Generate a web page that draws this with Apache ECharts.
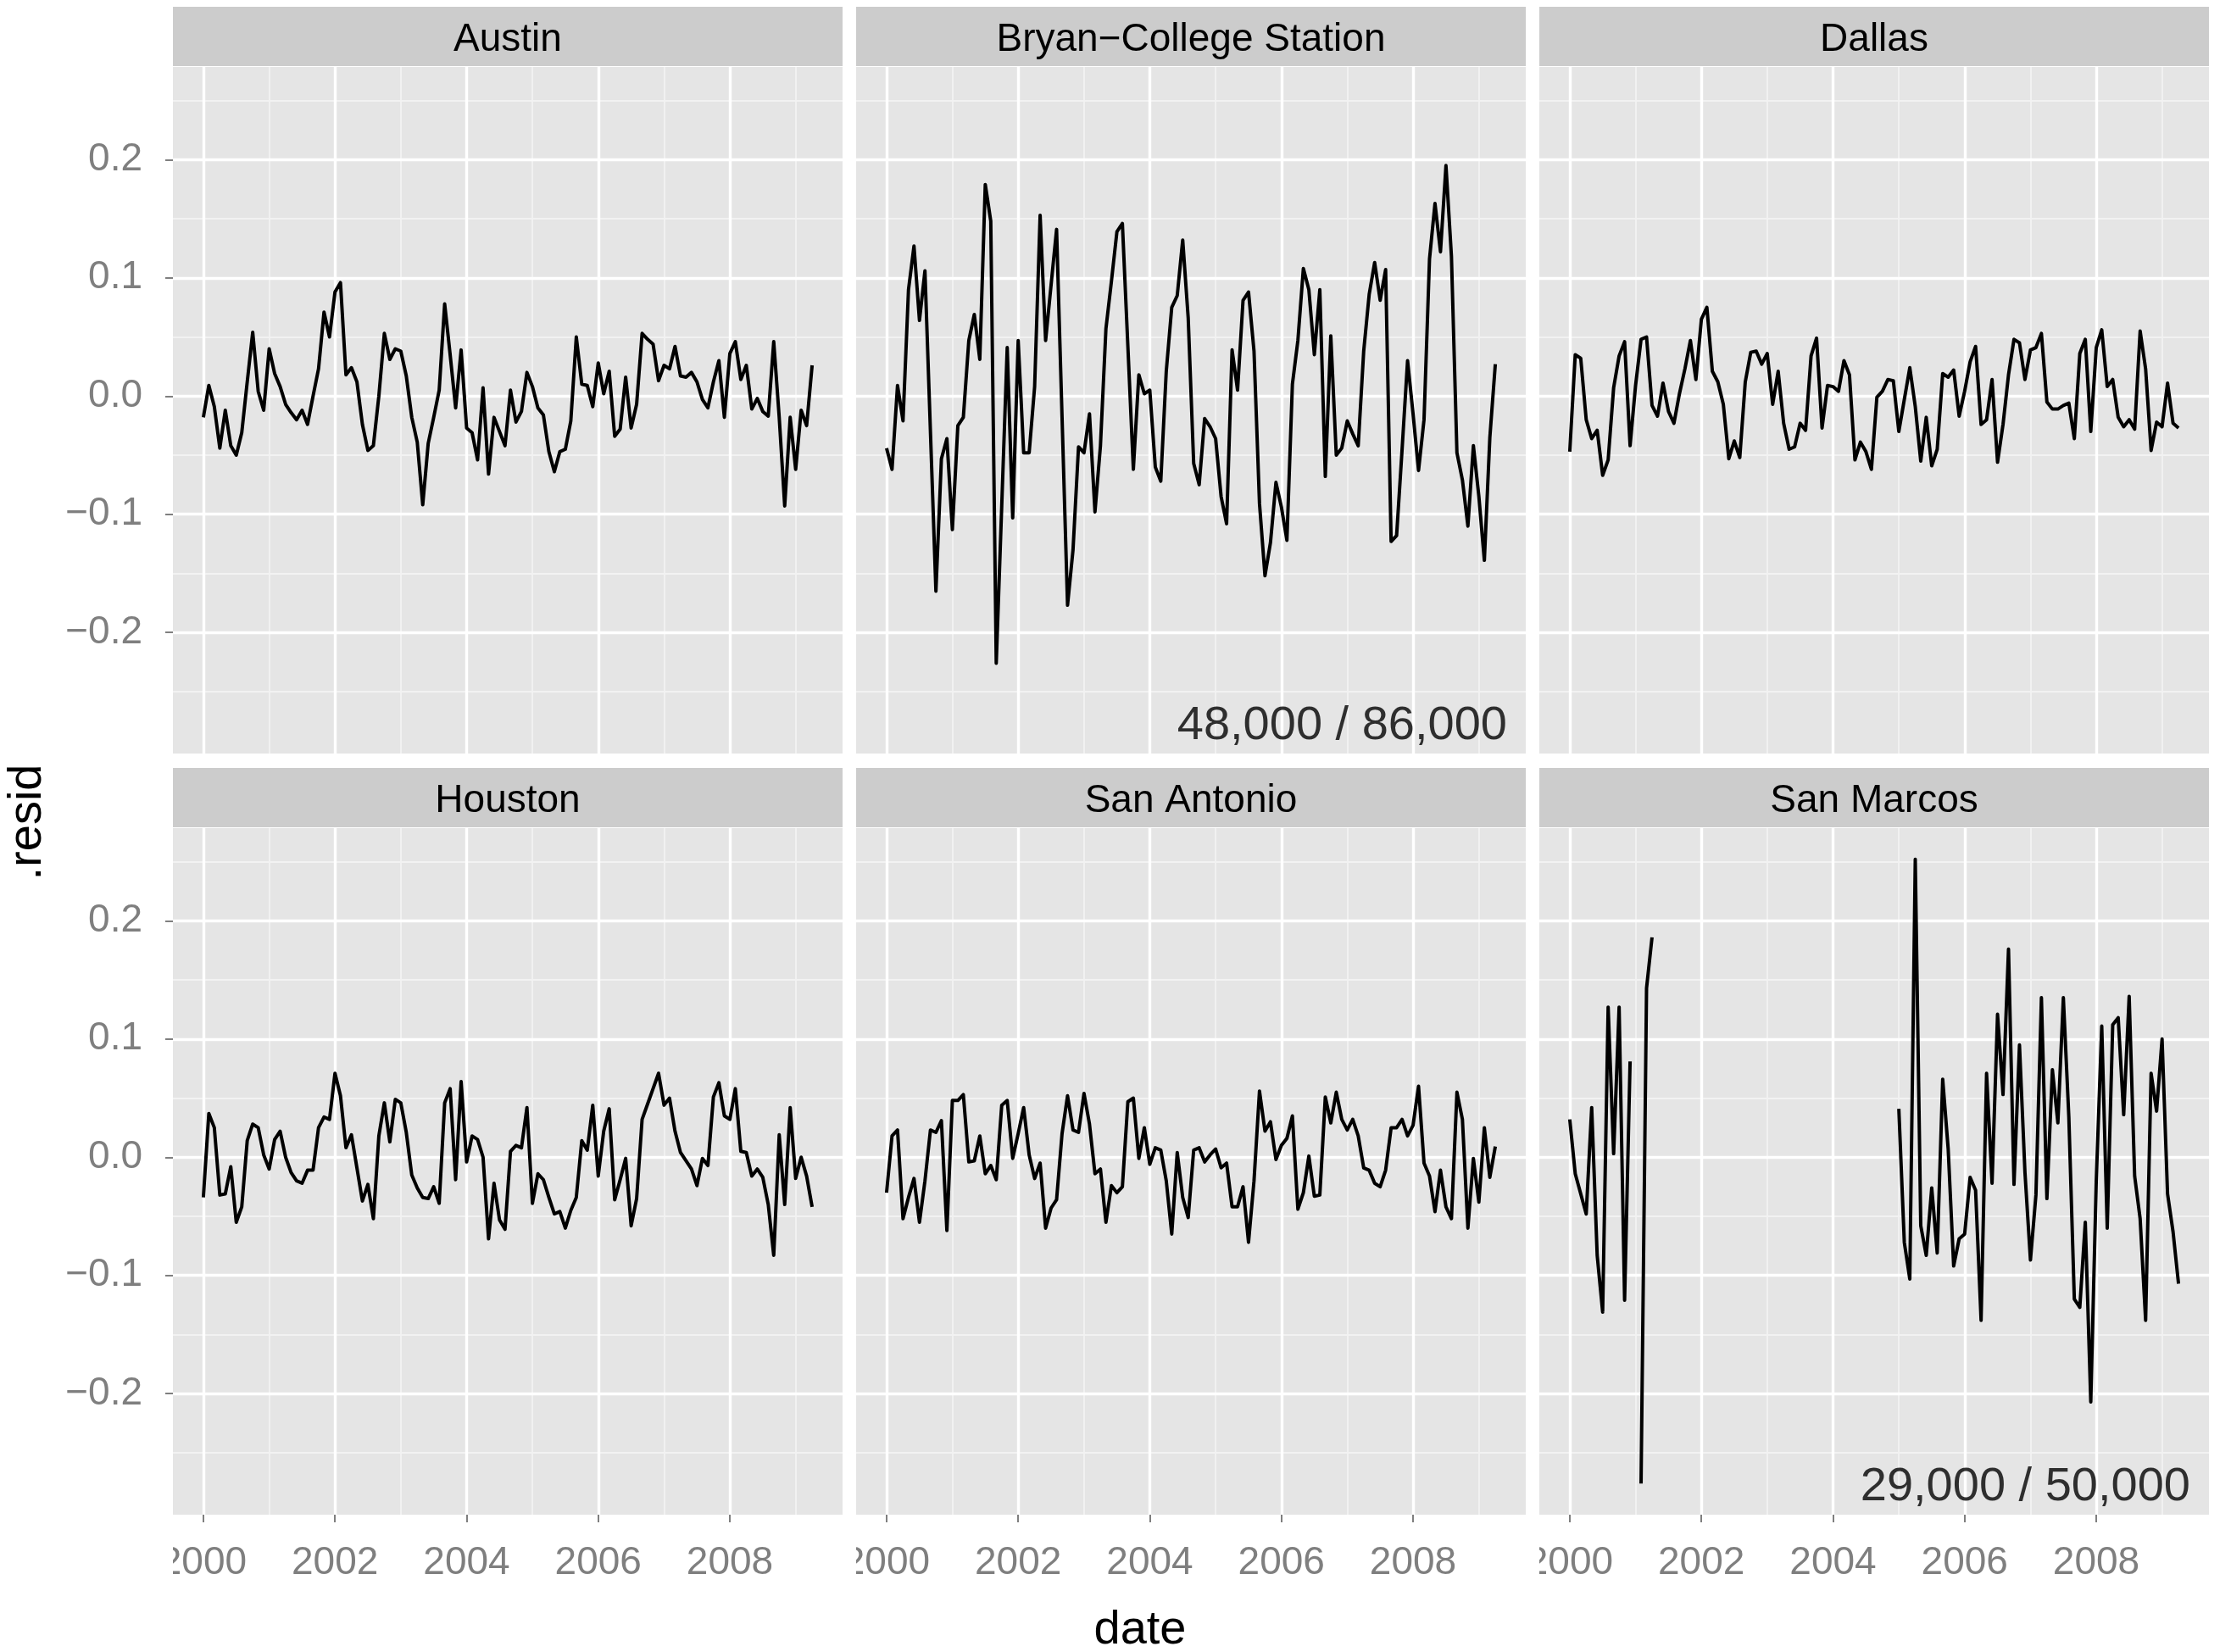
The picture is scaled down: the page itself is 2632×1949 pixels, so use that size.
<!DOCTYPE html>
<html><head><meta charset="utf-8">
<script src="https://cdn.jsdelivr.net/npm/echarts@6/dist/echarts.min.js"></script>
<style>html,body{margin:0;padding:0;background:#fff}#c{width:2632px;height:1949px}</style>
</head><body><div id="c"></div>
<script>
// ---- data ----
const cities = ['Austin', 'Bryan\u2212College Station', 'Dallas', 'Houston', 'San Antonio', 'San Marcos'];
const firstYear = 2000; // monthly values, Jan 2000 .. Apr 2009
const austin = [-0.018,0.009,-0.009,-0.044,-0.012,-0.042,-0.050,-0.031,0.012,0.054,
0.004,-0.012,0.040,0.019,0.008,-0.007,-0.014,-0.020,-0.012,-0.024,
0.000,0.023,0.071,0.050,0.088,0.096,0.018,0.024,0.012,-0.024,
-0.046,-0.042,0.000,0.053,0.031,0.040,0.038,0.017,-0.018,-0.039,
-0.092,-0.040,-0.018,0.005,0.078,0.035,-0.010,0.039,-0.027,-0.031,
-0.054,0.007,-0.066,-0.018,-0.030,-0.042,0.005,-0.022,-0.013,0.020,
0.008,-0.010,-0.016,-0.047,-0.064,-0.047,-0.045,-0.021,0.050,0.010,
0.009,-0.009,0.028,0.002,0.021,-0.034,-0.028,0.016,-0.027,-0.007,
0.053,0.048,0.044,0.013,0.026,0.023,0.042,0.017,0.016,0.020,
0.012,-0.003,-0.010,0.012,0.030,-0.018,0.036,0.046,0.014,0.026,
-0.011,-0.002,-0.013,-0.017,0.046,-0.018,-0.093,-0.018,-0.062,-0.012,
-0.025,0.026];
const bryan = [-0.044,-0.062,0.009,-0.021,0.090,0.127,0.064,0.106,-0.030,-0.165,
-0.053,-0.036,-0.113,-0.025,-0.018,0.047,0.069,0.031,0.179,0.148,
-0.226,-0.093,0.041,-0.103,0.047,-0.048,-0.048,0.008,0.153,0.047,
0.094,0.141,-0.018,-0.177,-0.130,-0.043,-0.048,-0.015,-0.098,-0.042,
0.057,0.097,0.139,0.146,0.042,-0.062,0.018,0.002,0.005,-0.060,
-0.072,0.021,0.075,0.085,0.132,0.066,-0.057,-0.075,-0.019,-0.026,
-0.036,-0.085,-0.108,0.039,0.005,0.081,0.088,0.038,-0.091,-0.152,
-0.124,-0.073,-0.094,-0.122,0.010,0.047,0.108,0.090,0.035,0.090,
-0.068,0.051,-0.050,-0.044,-0.021,-0.032,-0.042,0.038,0.086,0.113,
0.081,0.107,-0.123,-0.118,-0.045,0.030,-0.015,-0.063,-0.020,0.116,
0.163,0.122,0.195,0.118,-0.048,-0.071,-0.110,-0.042,-0.085,-0.139,
-0.035,0.027];
const dallas = [-0.047,0.035,0.032,-0.020,-0.036,-0.029,-0.067,-0.054,0.007,0.034,
0.046,-0.042,0.009,0.048,0.050,-0.008,-0.017,0.011,-0.013,-0.023,
0.002,0.023,0.047,0.014,0.065,0.075,0.021,0.012,-0.007,-0.053,
-0.038,-0.052,0.012,0.037,0.038,0.027,0.036,-0.007,0.021,-0.023,
-0.045,-0.043,-0.023,-0.029,0.034,0.049,-0.027,0.009,0.008,0.004,
0.030,0.018,-0.054,-0.039,-0.047,-0.062,-0.001,0.004,0.014,0.013,
-0.030,-0.003,0.024,-0.009,-0.055,-0.018,-0.059,-0.045,0.019,0.016,
0.022,-0.017,0.004,0.029,0.042,-0.024,-0.020,0.014,-0.056,-0.024,
0.018,0.048,0.045,0.014,0.039,0.041,0.053,-0.005,-0.011,-0.011,
-0.008,-0.006,-0.036,0.036,0.048,-0.030,0.041,0.056,0.008,0.014,
-0.018,-0.026,-0.020,-0.028,0.055,0.023,-0.046,-0.022,-0.026,0.011,
-0.023,-0.027];
const houston = [-0.034,0.037,0.025,-0.032,-0.031,-0.008,-0.055,-0.042,0.014,0.028,
0.025,0.002,-0.010,0.015,0.022,0.000,-0.013,-0.020,-0.022,-0.011,
-0.011,0.025,0.034,0.032,0.071,0.052,0.008,0.019,-0.009,-0.037,
-0.023,-0.052,0.018,0.046,0.013,0.049,0.046,0.021,-0.015,-0.026,
-0.034,-0.035,-0.025,-0.039,0.046,0.058,-0.019,0.064,-0.004,0.018,
0.015,0.000,-0.069,-0.022,-0.053,-0.061,0.005,0.010,0.008,0.042,
-0.039,-0.014,-0.019,-0.034,-0.048,-0.046,-0.060,-0.045,-0.034,0.014,
0.006,0.044,-0.016,0.022,0.041,-0.036,-0.019,-0.001,-0.058,-0.035,
0.032,0.045,0.058,0.071,0.044,0.050,0.022,0.004,-0.003,-0.010,
-0.024,-0.001,-0.007,0.051,0.063,0.035,0.032,0.058,0.005,0.004,
-0.016,-0.010,-0.017,-0.040,-0.083,0.019,-0.040,0.042,-0.018,0.000,
-0.016,-0.042];
const sanAntonio = [-0.030,0.018,0.023,-0.052,-0.034,-0.018,-0.055,-0.020,0.023,0.021,
0.031,-0.062,0.048,0.048,0.053,-0.004,-0.003,0.018,-0.014,-0.007,
-0.019,0.044,0.048,-0.001,0.020,0.042,0.002,-0.018,-0.005,-0.060,
-0.043,-0.036,0.020,0.052,0.023,0.021,0.054,0.028,-0.014,-0.010,
-0.055,-0.024,-0.030,-0.025,0.047,0.050,-0.001,0.025,-0.006,0.008,
0.006,-0.020,-0.065,0.004,-0.034,-0.051,0.006,0.008,-0.004,0.002,
0.007,-0.009,-0.005,-0.042,-0.042,-0.025,-0.072,-0.020,0.056,0.022,
0.030,-0.002,0.010,0.016,0.035,-0.044,-0.030,0.001,-0.033,-0.032,
0.051,0.029,0.055,0.032,0.023,0.032,0.018,-0.009,-0.011,-0.022,
-0.025,-0.011,0.025,0.025,0.032,0.018,0.027,0.060,-0.005,-0.016,
-0.046,-0.011,-0.042,-0.052,0.055,0.032,-0.060,-0.001,-0.038,0.025,
-0.017,0.009];
const sanMarcos = [0.032,-0.014,-0.031,-0.048,0.042,-0.083,-0.131,0.127,0.003,0.127,
-0.121,0.081,null,-0.276,0.143,0.186,null,null,null,null,
null,null,null,null,null,null,null,null,null,null,
null,null,null,null,null,null,null,null,null,null,
null,null,null,null,null,null,null,null,null,null,
null,null,null,null,null,null,null,null,null,null,
0.041,-0.072,-0.103,0.252,-0.058,-0.083,-0.026,-0.081,0.066,0.007,
-0.092,-0.069,-0.065,-0.017,-0.028,-0.138,0.071,-0.022,0.121,0.053,
0.176,-0.023,0.095,-0.013,-0.087,-0.032,0.135,-0.035,0.074,0.029,
0.135,0.034,-0.120,-0.127,-0.055,-0.207,-0.020,0.111,-0.060,0.112,
0.118,0.036,0.136,-0.016,-0.052,-0.138,0.071,0.039,0.100,-0.031,
-0.063,-0.107];
const seriesValues = [austin, bryan, dallas, houston, sanAntonio, sanMarcos];
const annotationText = [null, '48,000 / 86,000', null, null, null, '29,000 / 50,000'];
const xMajorTicks = [2000, 2002, 2004, 2006, 2008];
const xMinorTicks = [2001, 2003, 2005, 2007, 2009];
const yMajorTicks = [-0.2, -0.1, 0, 0.1, 0.2];
const yMinorTicks = [-0.25, -0.15, -0.05, 0.05, 0.15, 0.25];

// ---- scales (ggplot-style 5% expansion) ----
const dates = austin.map((_, i) => firstYear + i / 12);
const allVals = [].concat(...seriesValues).filter(v => v !== null);
const yLo = Math.min(...allVals), yHi = Math.max(...allVals);
const yPad = (yHi - yLo) * 0.05;
const Y_MIN = yLo - yPad, Y_MAX = yHi + yPad;
const xLo = dates[0], xHi = dates[dates.length - 1];
const xPad = (xHi - xLo) * 0.05;
const X_MIN = xLo - xPad, X_MAX = xHi + xPad;

// ---- layout ----
const FONT = '"Liberation Sans", Arial, Helvetica, sans-serif';
const LEFTS = [204, 1010, 1816], TOPS = [79, 977], PW = 790, PH = 810;
const STRIP_H = 70;

const grids = [], xAxes = [], yAxes = [], series = [], graphics = [];
for (let k = 0; k < 6; k++) {
  const col = k % 3, row = Math.floor(k / 3);
  grids.push({left: LEFTS[col], top: TOPS[row], width: PW, height: PH, show: true,
    backgroundColor: '#E5E5E5', borderWidth: 0, containLabel: false, z: 0});
}
for (let k = 0; k < 6; k++) {
  const col = k % 3, row = Math.floor(k / 3);
  xAxes.push({type: 'value', gridIndex: k, min: X_MIN, max: X_MAX, position: 'bottom', z: 2,
    axisLine: {show: false, onZero: false},
    axisTick: {show: row === 1, customValues: xMajorTicks, length: 9, lineStyle: {color: '#7F7F7F', width: 2}},
    axisLabel: {show: row === 1, customValues: xMajorTicks, margin: 34, color: '#7F7F7F', fontSize: 46,
      fontFamily: FONT, formatter: v => String(Math.round(v))},
    splitLine: {show: true, lineStyle: {color: '#FFFFFF', width: 3.4}}});
  yAxes.push({type: 'value', gridIndex: k, min: Y_MIN, max: Y_MAX, position: 'left', z: 2,
    axisLine: {show: false, onZero: false},
    axisTick: {show: col === 0, customValues: yMajorTicks, length: 9, lineStyle: {color: '#7F7F7F', width: 2}},
    axisLabel: {show: col === 0, customValues: yMajorTicks, margin: 36, color: '#7F7F7F', fontSize: 46,
      fontFamily: FONT,
      formatter: v => (v < -1e-9 ? '\u2212' : '') + Math.abs(v).toFixed(1)},
    splitLine: {show: true, lineStyle: {color: '#FFFFFF', width: 3.4}}});
}
for (let k = 0; k < 6; k++) {
  xAxes.push({type: 'value', gridIndex: k, min: X_MIN, max: X_MAX, position: 'top', z: 1,
    axisLine: {show: false, onZero: false}, axisTick: {show: false, customValues: xMinorTicks},
    axisLabel: {show: false, customValues: xMinorTicks},
    splitLine: {show: true, lineStyle: {color: '#F2F2F2', width: 1.8}}});
  yAxes.push({type: 'value', gridIndex: k, min: Y_MIN, max: Y_MAX, position: 'right', z: 1,
    axisLine: {show: false, onZero: false}, axisTick: {show: false, customValues: yMinorTicks},
    axisLabel: {show: false, customValues: yMinorTicks},
    splitLine: {show: true, lineStyle: {color: '#F2F2F2', width: 1.8}}});
}
for (let k = 0; k < 6; k++) {
  series.push({type: 'line', xAxisIndex: k, yAxisIndex: k, z: 3,
    data: dates.map((d, i) => [d, seriesValues[k][i] === null ? '-' : seriesValues[k][i]]),
    showSymbol: false, symbol: 'none', connectNulls: false, silent: true,
    lineStyle: {color: '#000000', width: 4, join: 'round'}});
  if (annotationText[k]) {
    series.push({type: 'scatter', xAxisIndex: k, yAxisIndex: k, z: 4, clip: false, silent: true,
      symbolSize: 0, data: [[X_MAX, Y_MIN]],
      label: {show: true, position: 'inside', align: 'right', verticalAlign: 'bottom',
        offset: [-22, -4], formatter: annotationText[k], color: '#000000', fontSize: 56, fontFamily: FONT}});
  }
}
// strips
for (let k = 0; k < 6; k++) {
  const col = k % 3, row = Math.floor(k / 3);
  graphics.push({type: 'rect', z: 10, shape: {x: LEFTS[col], y: TOPS[row] - STRIP_H - 1, width: PW, height: STRIP_H},
    style: {fill: '#CCCCCC'}});
  graphics.push({type: 'text', z: 11, x: LEFTS[col] + PW / 2, y: TOPS[row] - STRIP_H / 2 + 3,
    style: {text: cities[k], fill: '#000000', font: '46px ' + FONT, textAlign: 'center', textVerticalAlign: 'middle'}});
}
// clip the x tick labels at each bottom panel's left edge (as in the original)
for (let col = 0; col < 3; col++) {
  graphics.push({type: 'rect', z: 12, shape: {x: LEFTS[col] - 34, y: TOPS[1] + PH + 12, width: 34, height: 80},
    style: {fill: '#FFFFFF'}});
}
// axis titles
graphics.push({type: 'text', z: 11, x: 1345, y: 1924,
  style: {text: 'date', fill: '#000000', font: '56px ' + FONT, textAlign: 'center', textVerticalAlign: 'middle'}});
graphics.push({type: 'text', z: 11, x: 33, y: 970, rotation: Math.PI / 2,
  style: {text: '.resid', fill: '#000000', font: '56px ' + FONT, textAlign: 'center', textVerticalAlign: 'middle'}});

const chart = echarts.init(document.getElementById('c'), null, {renderer: 'canvas'});
chart.setOption({animation: false, backgroundColor: '#FFFFFF',
  grid: grids, xAxis: xAxes, yAxis: yAxes, series: series, graphic: graphics});
</script></body></html>
